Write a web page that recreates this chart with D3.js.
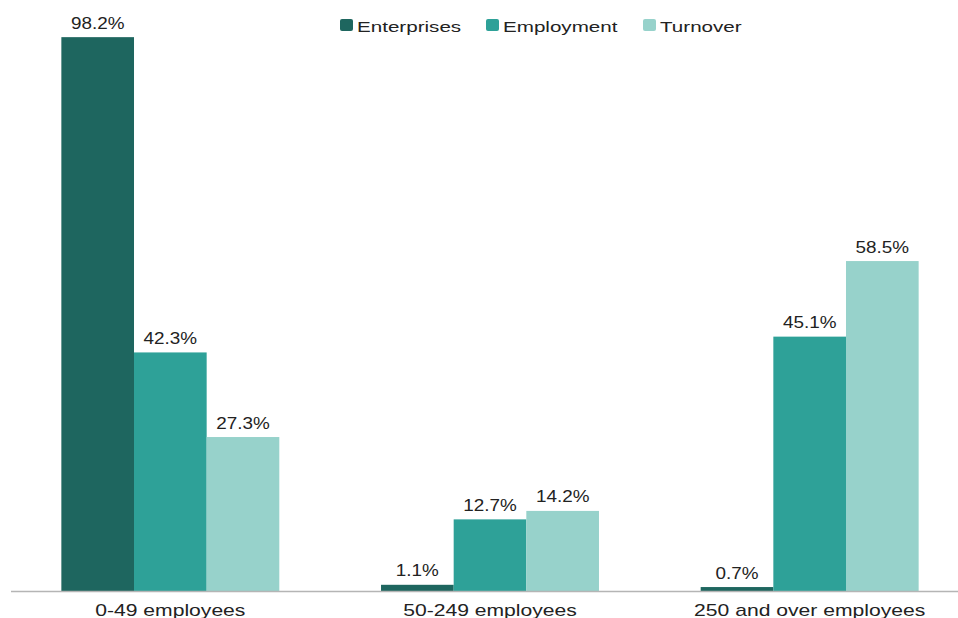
<!DOCTYPE html>
<html>
<head>
<meta charset="utf-8">
<script src="https://cdn.jsdelivr.net/npm/d3@7"></script>
<style>
  html, body { margin: 0; padding: 0; background: #fff; }
  svg { display: block; font-family: "Liberation Sans", Arial, sans-serif; }
</style>
</head>
<body>
<svg id="chart" width="958" height="618"></svg>
<script>
// Share of enterprises, employment and turnover by business size band
const categories = ["0-49 employees", "50-249 employees", "250 and over employees"];
const seriesNames = ["Enterprises", "Employment", "Turnover"];
const enterprises = [98.2, 1.1, 0.7];
const employment = [42.3, 12.7, 45.1];
const turnover = [27.3, 14.2, 58.5];
const colors = ["#1e665f", "#2ea198", "#97d2cb"];

const seriesValues = [enterprises, employment, turnover];
const rows = categories.map((c, i) => ({
  category: c,
  values: seriesNames.map((s, j) => ({ series: s, value: seriesValues[j][i] }))
}));

const svg = d3.select("#chart");
const baseline = 591;

const x0 = d3.scaleBand().domain(categories).range([10.5, 969.5]).paddingInner(0).paddingOuter(0);
const x1 = d3.scaleBand().domain(seriesNames).range([0, x0.bandwidth()])
  .paddingInner(0).paddingOuter(0.7);
const y = d3.scaleLinear().domain([0, 100]).range([baseline, 27]);
const color = d3.scaleOrdinal().domain(seriesNames).range(colors);

// bars
const groups = svg.append("g").selectAll("g").data(rows).join("g")
  .attr("transform", d => `translate(${x0(d.category)},0)`);

groups.selectAll("rect").data(d => d.values).join("rect")
  .attr("x", d => x1(d.series))
  .attr("y", d => y(d.value))
  .attr("width", x1.bandwidth())
  .attr("height", d => baseline - y(d.value))
  .attr("fill", d => color(d.series));

// value labels (slightly wide lettering)
groups.selectAll("text").data(d => d.values).join("text")
  .attr("transform", d => `translate(${x1(d.series) + x1.bandwidth() / 2},${y(d.value) - 8.5}) scale(1.18,1)`)
  .attr("text-anchor", "middle")
  .attr("font-size", 16)
  .attr("fill", "#222")
  .text(d => d.value.toFixed(1) + "%");

// category axis
const xAxis = d3.axisBottom(x0).tickSize(0).tickPadding(14);
const axisG = svg.append("g").attr("transform", `translate(0,${baseline})`).call(xAxis);
axisG.select(".domain").attr("stroke", "#b5b5b5").attr("stroke-width", 1.5);
axisG.selectAll(".tick text")
  .attr("font-size", 16)
  .attr("transform", "scale(1.32,1)")
  .attr("fill", "#222")
  .attr("font-family", "Liberation Sans, Arial, sans-serif");

// legend
const legendX = [340, 486, 643];
const legend = svg.append("g").selectAll("g").data(seriesNames).join("g")
  .attr("transform", (d, i) => `translate(${legendX[i]},19)`);
legend.append("rect")
  .attr("width", 13).attr("height", 12).attr("rx", 2)
  .attr("fill", d => color(d));
legend.append("text")
  .attr("transform", "translate(17,13) scale(1.33,1)")
  .attr("font-size", 15.5)
  .attr("fill", "#222")
  .text(d => d);
</script>
</body>
</html>
